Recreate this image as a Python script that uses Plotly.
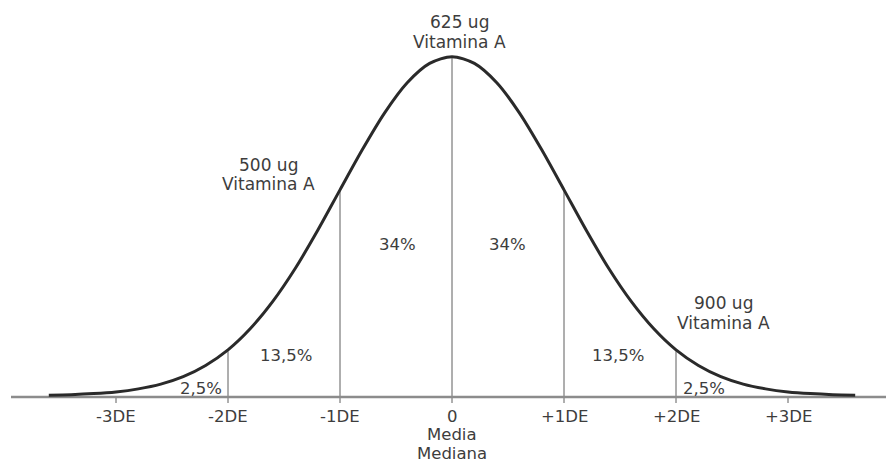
import plotly.graph_objects as go

# ---- data ----
# curve heights relative to the peak, sampled every 0.2 SD
curve_x = [-3.6, -3.4, -3.2, -3.0, -2.8, -2.6, -2.4, -2.2, -2.0, -1.8, -1.6, -1.4, -1.2,
           -1.0, -0.8, -0.6, -0.4, -0.2, 0.0, 0.2, 0.4, 0.6, 0.8, 1.0, 1.2, 1.4, 1.6,
           1.8, 2.0, 2.2, 2.4, 2.6, 2.8, 3.0, 3.2, 3.4, 3.6]
curve_y = [0.0015, 0.003, 0.006, 0.011, 0.020, 0.034, 0.056, 0.089, 0.135, 0.198, 0.278, 0.375, 0.487,
           0.607, 0.726, 0.835, 0.923, 0.980, 1.0, 0.980, 0.923, 0.835, 0.726, 0.607, 0.487, 0.375, 0.278,
           0.198, 0.135, 0.089, 0.056, 0.034, 0.020, 0.011, 0.006, 0.003, 0.0015]
# vertical divider lines (position in SD, height relative to peak)
divider_x = [-2, -1, 0, 1, 2]
divider_h = [0.135, 0.607, 1.0, 0.607, 0.135]
# axis ticks
tick_vals = [-3, -2, -1, 0, 1, 2, 3]
tick_text = ["-3DE", "-2DE", "-1DE", "0", "+1DE", "+2DE", "+3DE"]
# area percentages
pct_labels = ["2,5%", "13,5%", "34%", "34%", "13,5%", "2,5%"]
# vitamin A labels
vit_amounts = ["500 ug", "625 ug", "900 ug"]
vit_name = "Vitamina A"

# ---- pixel geometry helpers ----
W, H = 886, 462
X0_PX, SD_PX = 452, 112
Y0_PX, PEAK_PX = 397, 339


def px_x(px):
    return (px - X0_PX) / SD_PX


def px_y(py):
    return (Y0_PX - py) / PEAK_PX


TEXT_COLOR = "#3d3d3d"
FONT = "DejaVu Sans"
FS = 16.5

fig = go.Figure()

# divider lines from just below the baseline up to the curve
for xv, hv in zip(divider_x, divider_h):
    fig.add_trace(go.Scatter(x=[xv, xv], y=[px_y(Y0_PX + 6), hv], mode="lines",
                             line=dict(color="#5e5e5e", width=1), hoverinfo="skip",
                             showlegend=False))

# outer ticks at +/-3
for xv in tick_vals:
    if xv not in divider_x:
        fig.add_trace(go.Scatter(x=[xv, xv], y=[px_y(Y0_PX + 6), 0], mode="lines",
                                 line=dict(color="#5e5e5e", width=1), hoverinfo="skip",
                                 showlegend=False))

# baseline axis
fig.add_trace(go.Scatter(x=[px_x(11), px_x(W + 5)], y=[0, 0], mode="lines",
                         line=dict(color="#8c8c8c", width=2.5), hoverinfo="skip",
                         showlegend=False))

# bell curve
fig.add_trace(go.Scatter(x=curve_x, y=[v + 0.004 for v in curve_y], mode="lines",
                         line=dict(color="#2a2a2a", width=3, shape="spline", smoothing=0.8),
                         hoverinfo="skip", showlegend=False))

ann = []


def add_text(px, py, text, size=FS):
    ann.append(dict(x=px_x(px), y=px_y(py), text=text, showarrow=False,
                    font=dict(family=FONT, size=size, color=TEXT_COLOR),
                    xanchor="center", yanchor="middle"))


# tick labels
for xv, t in zip(tick_vals, tick_text):
    add_text(X0_PX + xv * SD_PX, 416, t)
add_text(X0_PX, 434, "Media")
add_text(X0_PX, 453, "Mediana")

# percentages
pct_pos = [(201, 388), (286, 355), (397, 244), (507, 244), (618, 355), (704, 388)]
for (px, py), t in zip(pct_pos, pct_labels):
    add_text(px, py, t)

# vitamin labels (amount line + name line)
vit_pos = [(268, 165, 184), (459, 22, 42), (723, 303, 323)]
for (px, py1, py2), t in zip(vit_pos, vit_amounts):
    add_text(px, py1, t, 17)
    add_text(px, py2, vit_name, 17)

fig.update_layout(
    width=W, height=H,
    margin=dict(l=0, r=0, t=0, b=0),
    paper_bgcolor="white", plot_bgcolor="white",
    xaxis=dict(range=[px_x(0), px_x(W)], visible=False, fixedrange=True),
    yaxis=dict(range=[px_y(H), px_y(0)], visible=False, fixedrange=True),
    annotations=ann,
    showlegend=False,
)

fig.write_html("out.html", config={"displayModeBar": False},
               post_script="document.body.style.margin='0px';document.body.style.overflow='hidden';")
